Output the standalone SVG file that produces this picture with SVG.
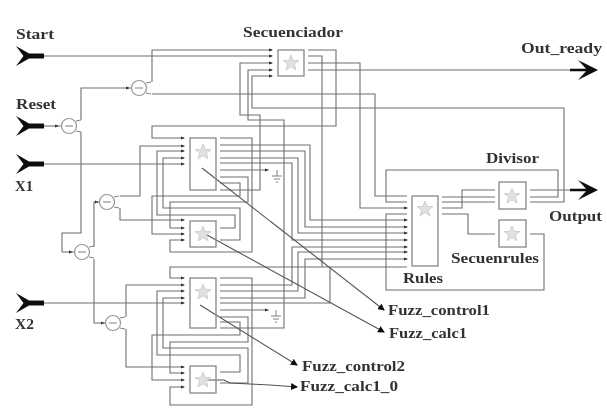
<svg xmlns="http://www.w3.org/2000/svg" width="607" height="418" viewBox="0 0 607 418">
<style>
.w{fill:none;stroke:#6e6e6e;stroke-width:1.1}
.a{marker-end:url(#tip)}
.p{marker-end:url(#ptip)}
.d{fill:none;stroke:#555;stroke-width:1.1}
.box{fill:none;stroke:#8f8f8f;stroke-width:1.4}
.st{fill:#e0e0e0;stroke:#d0d0d0;stroke-width:1}
.g{fill:#fff;stroke:#959595;stroke-width:1.2}
.gi{fill:none;stroke:#808080;stroke-width:1}
.in{fill:#111}
text{font-family:"Liberation Serif","Times New Roman",serif;font-weight:700;font-size:15.5px;fill:#333}
</style>
<defs>
<filter id="soft" x="-2%" y="-2%" width="104%" height="104%"><feGaussianBlur stdDeviation="0.55"/></filter>
<marker id="tip" markerWidth="4" markerHeight="4" refX="3" refY="2" orient="auto" markerUnits="userSpaceOnUse"><path d="M0 0.4L4 2L0 3.6Z" fill="#333"/></marker>
<marker id="ptip" markerWidth="7" markerHeight="7" refX="6" refY="3.5" orient="auto" markerUnits="userSpaceOnUse"><path d="M0 0L7 3.5L0 7Z" fill="#111"/></marker>
<path id="star" class="st" d="M0-8L2.2-2.6L8-2.5L3.4 1L5 7L0 3.6L-5 7L-3.4 1L-8-2.5L-2.2-2.6Z"/>
<path id="yarrow" class="in" d="M0-10L13-2.4L28-2.4L28 2.4L13 2.4L0 10L7.5 0Z"/>
<path id="rarrow" class="in" d="M0-10L20 0L0 10L8 1.2L-8 1.2L-8-1.2L8-1.2Z"/>
<g id="gate"><circle class="g" r="7.5"/><path class="gi" d="M-4 0H4M7-5L12-6M7 5L12 6M-11 0H-8"/></g>
<g id="gnd"><path class="gi" d="M-5 1H5M-3 4H3M-1 7H1M0-5V1"/></g>
</defs>
<rect width="607" height="418" fill="#fff"/>
<g filter="url(#soft)">
<g id="connectors">
<path class="w a" d="M44 56H272"/>
<path class="w a" d="M44 126H58"/>
<path class="w a" d="M44 164H184"/>
<path class="w a" d="M44 303H184"/>
<path class="w a" d="M81 120V88H129"/>
<path class="w a" d="M81 132V233H62V252H72"/>
<path class="w a" d="M94 247V202H98"/>
<path class="w a" d="M94 259V323H104"/>
<path class="w a" d="M152 82V50H272"/>
<path class="w" d="M152 94H375V196H407"/>
<path class="w a" d="M120 196H140V146H184"/>
<path class="w a" d="M120 208V220H184"/>
<path class="w a" d="M126 317V285H184"/>
<path class="w a" d="M126 329V367H184"/>
<path class="w a" d="M308 50H336V126H152V138H184"/>
<path class="w" d="M308 56H322V267"/>
<path class="w a" d="M308 63H360V208H407"/>
<path class="w" d="M308 70H578"/>
<path class="w a" d="M220 190H260V115H240V63H272"/>
<path class="w a" d="M220 328H284V120H248V70H272"/>
<path class="w a" d="M530 202H564V108H252V76H272"/>
<path class="w a" d="M220 138H252V252H170V240H184"/>
<path class="w a" d="M220 145H310V220H407"/>
<path class="w a" d="M220 151H305V227H407"/>
<path class="w a" d="M220 158H298V233H407"/>
<path class="w a" d="M220 163H292V240H407"/>
<path class="w a" d="M220 170H268"/>
<path class="w a" d="M220 177H248V202H170V228H184"/>
<path class="w a" d="M220 183H240V196H152V234H184"/>
<path class="w a" d="M220 228H235V215H157V151H184"/>
<path class="w a" d="M220 240H240V208H163V158H184"/>
<path class="w a" d="M407 267H170V278H184"/>
<path class="w a" d="M220 278H252V405H170V387H184"/>
<path class="w a" d="M220 285H292V247H407"/>
<path class="w a" d="M220 291H298V252H407"/>
<path class="w a" d="M220 298H305V259H407"/>
<path class="w" d="M220 303H330V267"/>
<path class="w a" d="M220 310H268"/>
<path class="w a" d="M220 317H248V342H170V373H184"/>
<path class="w a" d="M220 322H240V335H152V380H184"/>
<path class="w a" d="M220 372H240V355H157V291H184"/>
<path class="w a" d="M220 383H248V348H163V298H184"/>
<path class="w" d="M530 197H558V170H386V202H407"/>
<path class="w" d="M530 234H544V290H386V214H407"/>
<path class="w" d="M442 197H495"/>
<path class="w" d="M442 202H495"/>
<path class="w" d="M442 208H462V190H495"/>
<path class="w" d="M442 214H468V234H495"/>
<path class="w" d="M530 190H578"/>
<path class="d p" d="M202 168L384 310"/>
<path class="d p" d="M207 235L384 332"/>
<path class="d p" d="M200 305L297 365"/>
<path class="d p" d="M205 380H224L230 383L270 385L297 387"/>
</g>
<g id="Start"><use href="#yarrow" x="16" y="56"/><text x="16" y="39" textLength="38" lengthAdjust="spacingAndGlyphs">Start</text></g>
<g id="Reset"><use href="#yarrow" x="16" y="126"/><text x="16" y="109" textLength="40" lengthAdjust="spacingAndGlyphs">Reset</text></g>
<g id="X1"><use href="#yarrow" x="16" y="164"/><text x="15" y="191" textLength="18" lengthAdjust="spacingAndGlyphs">X1</text></g>
<g id="X2"><use href="#yarrow" x="16" y="303"/><text x="15" y="329" textLength="19" lengthAdjust="spacingAndGlyphs">X2</text></g>
<g id="Out_ready"><use href="#rarrow" x="578" y="70"/><text x="521" y="53" textLength="81" lengthAdjust="spacingAndGlyphs">Out_ready</text></g>
<g id="Output"><use href="#rarrow" x="578" y="190"/><text x="549" y="221" textLength="53" lengthAdjust="spacingAndGlyphs">Output</text></g>
<g id="gate0"><use href="#gate" x="69" y="126"/></g>
<g id="gate1"><use href="#gate" x="139" y="88"/></g>
<g id="gate2"><use href="#gate" x="107" y="202"/></g>
<g id="gate3"><use href="#gate" x="82" y="252"/></g>
<g id="gate4"><use href="#gate" x="113" y="323"/></g>
<g id="Secuenciador"><rect class="box" x="278" y="50" width="26" height="26"/><use href="#star" x="291" y="63"/><text x="243" y="37" textLength="100" lengthAdjust="spacingAndGlyphs">Secuenciador</text></g>
<g id="Fuzz_control1"><rect class="box" x="190" y="138" width="26" height="52"/><use href="#star" x="203" y="152"/><text x="388" y="315" textLength="102" lengthAdjust="spacingAndGlyphs">Fuzz_control1</text></g>
<g id="Fuzz_calc1"><rect class="box" x="190" y="221" width="26" height="26"/><use href="#star" x="203" y="234"/><text x="389" y="338" textLength="78" lengthAdjust="spacingAndGlyphs">Fuzz_calc1</text></g>
<g id="Fuzz_control2"><rect class="box" x="190" y="278" width="26" height="50"/><use href="#star" x="203" y="292"/><text x="302" y="371" textLength="103" lengthAdjust="spacingAndGlyphs">Fuzz_control2</text></g>
<g id="Fuzz_calc1_0"><rect class="box" x="190" y="366" width="26" height="27"/><use href="#star" x="203" y="380"/><text x="300" y="391" textLength="98" lengthAdjust="spacingAndGlyphs">Fuzz_calc1_0</text></g>
<g id="Rules"><rect class="box" x="412" y="196" width="26" height="70"/><use href="#star" x="425" y="209"/><text x="403" y="283" textLength="40" lengthAdjust="spacingAndGlyphs">Rules</text></g>
<g id="Divisor"><rect class="box" x="499" y="182" width="27" height="27"/><use href="#star" x="512" y="196"/><text x="486" y="163" textLength="53" lengthAdjust="spacingAndGlyphs">Divisor</text></g>
<g id="Secuenrules"><rect class="box" x="499" y="220" width="27" height="27"/><use href="#star" x="512" y="234"/><text x="451" y="263" textLength="88" lengthAdjust="spacingAndGlyphs">Secuenrules</text></g>
<g id="terminators"><use href="#gnd" x="277" y="175"/><use href="#gnd" x="276" y="315"/></g>
</g>
</svg>
